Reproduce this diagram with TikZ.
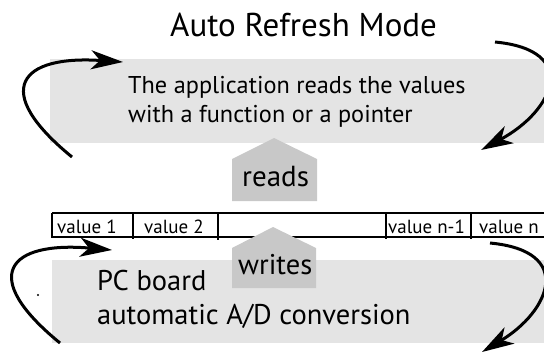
\documentclass[tikz,border=0pt]{standalone}
\usepackage{fontspec}
\setmainfont{PT Sans}
\usetikzlibrary{arrows.meta}
\definecolor{panel}{HTML}{E4E4E4}
\definecolor{house}{HTML}{C8C8C8}
\tikzset{
  panelbox/.style={fill=panel, draw=none},
  housebox/.style={fill=house, draw=none},
  flow/.style={line width=3pt, -{Stealth[length=32pt,width=19pt,inset=9pt]}},
  cellline/.style={line width=1.2pt},
  celltext/.style={anchor=base west, inner sep=0pt, font=\fontsize{19}{21}\selectfont},
  bigtext/.style={anchor=base west, inner sep=0pt, align=left},
}
\begin{document}
\begin{tikzpicture}[x=1pt,y=-1pt]
\useasboundingbox (0,0) rectangle (544,354);
% panels
\fill[panelbox] (50,59) rectangle (544,143);
\fill[panelbox] (52,260) rectangle (544,343);
% title
\node[bigtext, font=\fontsize{33}{38}\selectfont] (title) at (170,36) {Auto Refresh Mode};
\node[bigtext, font=\fontsize{24.3}{29}\selectfont] (app) at (128,122) {The application reads the values\\with a function or a pointer};
\node[bigtext, font=\fontsize{28.5}{34}\selectfont] (pc) at (97,324) {PC board\\automatic A/D conversion};
% table
\draw[cellline] (52,213) -- (544,213) (52,237) -- (544,237);
\draw[cellline] (52,213) -- (52,238) (133,213) -- (133,239) (218,213) -- (218,240) (386,213) -- (386,239) (471,213) -- (471,239);
\node[celltext] (v1) at (57,233) {value 1};
\node[celltext] (v2) at (144,233) {value 2};
\node[celltext] (vn1) at (388,233) {value n-1};
\node[celltext] (vn) at (479,233) {value n};
% houses
\fill[housebox] (232,201) -- (232,159) -- (274,138) -- (317,159) -- (317,201) -- cycle;
\node[bigtext, font=\fontsize{29}{34}\selectfont] (reads) at (242,186) {reads};
\fill[housebox] (232,288) -- (232,248) -- (273,227) -- (316,248) -- (316,288) -- cycle;
\node[bigtext, font=\fontsize{28.5}{34}\selectfont] (writes) at (238,274) {writes};
% arrows
\coordinate (a1s) at (72,157); \coordinate (a1e) at (123,62);
\coordinate (a2s) at (495,42); \coordinate (a2e) at (481,150);
\coordinate (a3s) at (60,343); \coordinate (a3e) at (112,250);
\coordinate (a4s) at (490,243); \coordinate (a4e) at (482,352);
\draw[flow] (a1s) .. controls (-10,90) and (20,55) .. (a1e);
\draw[flow] (a2s) .. controls (580,50) and (555,110) .. (a2e);
\draw[flow] (a3s) .. controls (-22,276) and (8,241) .. (a3e);
\draw[flow] (a4s) .. controls (575,251) and (550,311) .. (a4e);
\fill (38,295) circle (1.2);
\end{tikzpicture}
\end{document}
